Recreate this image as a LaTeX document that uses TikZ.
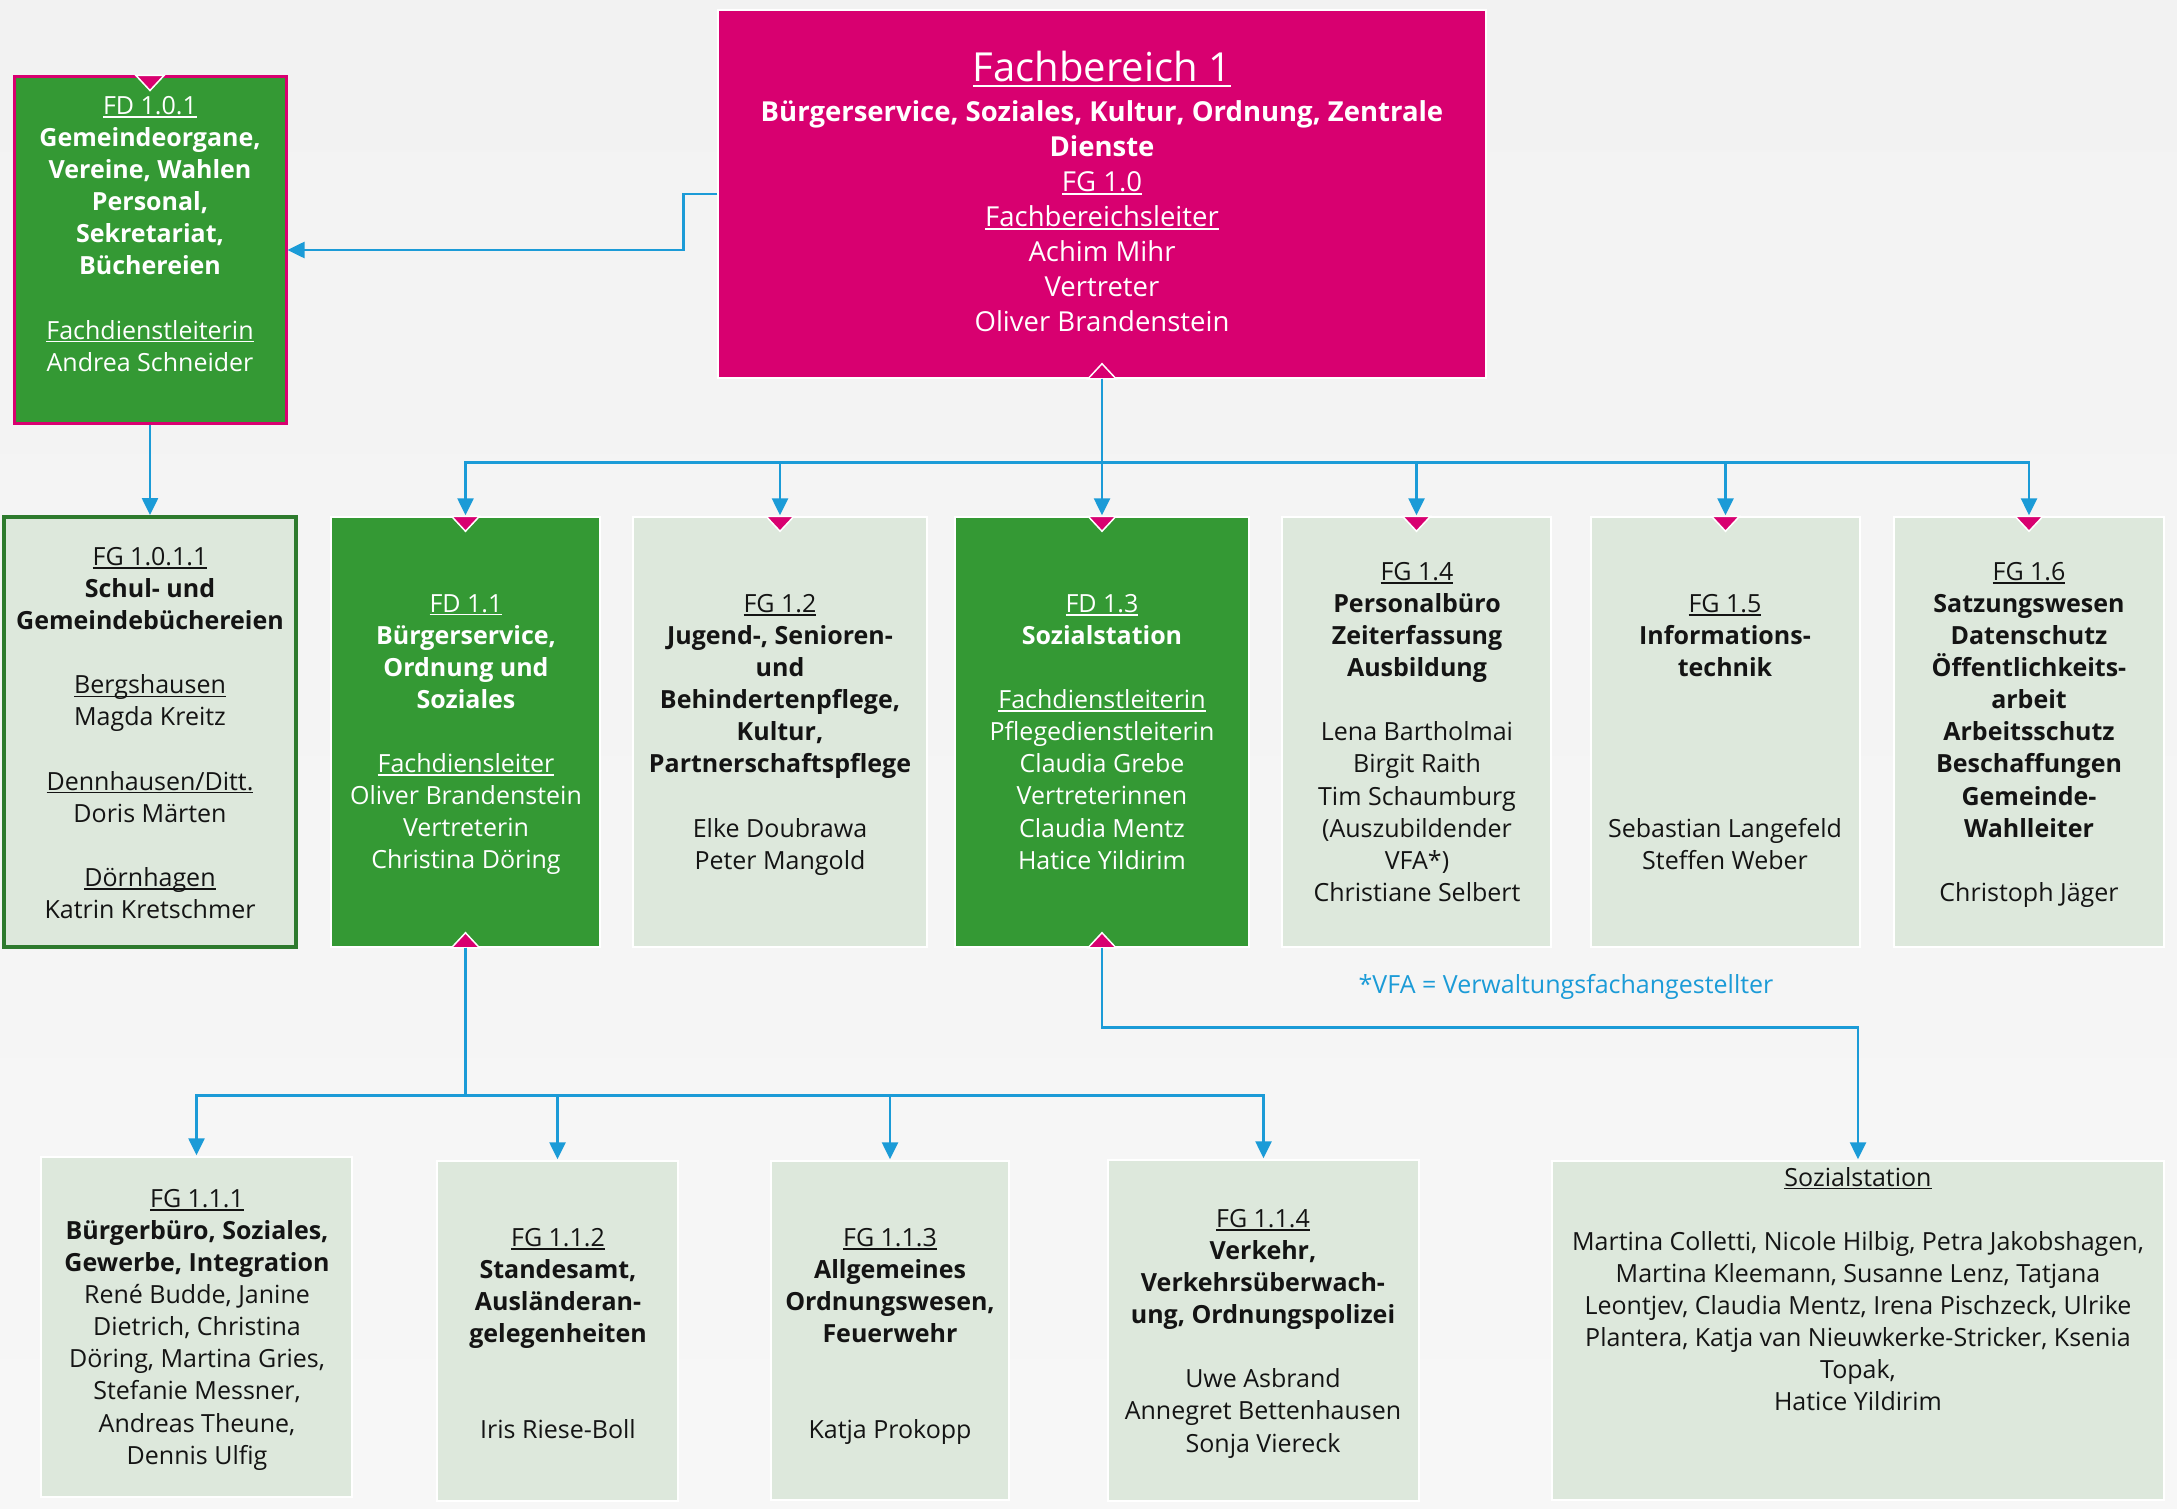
\documentclass[tikz,border=0pt]{standalone}
\usepackage{fontspec}
\setmainfont{Open Sans}
\usetikzlibrary{arrows.meta,calc}
\definecolor{pinkc}{RGB}{216,0,112}
\definecolor{greenc}{RGB}{52,153,52}
\definecolor{lightc}{RGB}{221,232,220}
\definecolor{dgreenc}{RGB}{45,122,45}
\definecolor{bluec}{RGB}{27,155,215}
\definecolor{bgtop}{RGB}{242,242,242}
\definecolor{bgbot}{RGB}{247,247,247}
\definecolor{darktext}{RGB}{20,20,20}
\newcommand\sztxt{\fontsize{25}{32.1}\selectfont}
\newcommand\undl[1]{\setbox0\hbox{#1}\rlap{\rule[-0.13em]{\wd0}{0.055em}}\box0}
\newcommand\dmk[1]{\filldraw[mk] ($(#1.north)+(-14,0)$) -- ($(#1.north)+(14,0)$) -- ($(#1.north)+(0,15)$) -- cycle;}
\newcommand\umk[1]{\filldraw[mk] ($(#1.south)+(-14,0)$) -- ($(#1.south)+(14,0)$) -- ($(#1.south)+(0,-15)$) -- cycle;}
\tikzset{
  box/.style={rectangle, inner sep=0pt, draw=white, line width=1.5pt},
  pinkbox/.style={box, fill=pinkc},
  greenbox/.style={box, fill=greenc},
  lightbox/.style={box, fill=lightc},
  txt/.style={anchor=north, align=center, inner sep=0pt, font=\sztxt},
  wtxt/.style={txt, text=white},
  dtxt/.style={txt, text=darktext},
  conn/.style={draw=bluec, line width=2.6pt, -{Triangle[length=17pt,width=16pt]}},
  mk/.style={fill=pinkc, draw=white, line width=1.5pt, line join=miter}
}
\begin{document}
\begin{tikzpicture}[x=1pt,y=-1pt]
\useasboundingbox (0,0) rectangle (2177,1509);
\shade[top color=bgtop, bottom color=bgbot] (0,0) rectangle (2177,1509);

% boxes
\node[pinkbox, minimum width=768pt, minimum height=368pt] (fb1) at (1102,194) {};
\node[box, fill=greenc, draw=pinkc, line width=3pt, minimum width=272pt, minimum height=346pt] (fd101) at (150,250) {};
\node[box, fill=lightc, draw=dgreenc, line width=4pt, minimum width=292pt, minimum height=430pt] (fg1011) at (150,732) {};
\node[greenbox, minimum width=269pt, minimum height=430pt] (fd11) at (465.5,732) {};
\node[lightbox, minimum width=294pt, minimum height=430pt] (fg12) at (780,732) {};
\node[greenbox, minimum width=294pt, minimum height=430pt] (fd13) at (1102,732) {};
\node[lightbox, minimum width=269pt, minimum height=430pt] (fg14) at (1416.5,732) {};
\node[lightbox, minimum width=269pt, minimum height=430pt] (fg15) at (1725.5,732) {};
\node[lightbox, minimum width=270pt, minimum height=430pt] (fg16) at (2029,732) {};
\node[lightbox, minimum width=311pt, minimum height=340pt] (fg111) at (196.5,1327) {};
\node[lightbox, minimum width=241pt, minimum height=340pt] (fg112) at (557.5,1331) {};
\node[lightbox, minimum width=238pt, minimum height=339pt] (fg113) at (890,1330.5) {};
\node[lightbox, minimum width=311pt, minimum height=341pt] (fg114) at (1263.5,1330.5) {};
\node[lightbox, minimum width=612pt, minimum height=339pt] (soz) at (1858,1330.5) {};

% markers
\umk{fb1}
\dmk{fd101}
\dmk{fd11}\dmk{fg12}\dmk{fd13}\dmk{fg14}\dmk{fg15}\dmk{fg16}
\umk{fd11}\umk{fd13}

% connectors
\draw[conn] (fb1.west) -- ++(-34,0) |- (fd101.east);
\draw[conn] (fd101.south) -- (fg1011.north);
\foreach \c in {fd11,fg12,fd13,fg14,fg15,fg16}
  \draw[conn] (fb1.south) -- ++(0,84) -| ($(\c.north)+(0,-1)$);
\foreach \c in {fg111,fg112,fg113,fg114}
  \draw[conn] (fd11.south) -- ++(0,148) -| ($(\c.north)+(0,-1)$);
\draw[conn] (fd13.south) -- ++(0,80) -| ($(soz.north)+(0,-1)$);

% texts
\node[wtxt, font=\fontsize{40}{48}\selectfont] (fb1title) at (1102,51) {\undl{Fachbereich 1}};
\node[wtxt, font=\fontsize{27.5}{35}\selectfont] (fb1t) at (1102,100) {\textbf{Bürgerservice, Soziales, Kultur, Ordnung, Zentrale}\\ \textbf{Dienste}\\ \undl{FG 1.0}\\ \undl{Fachbereichsleiter}\\ Achim Mihr\\ Vertreter\\ Oliver Brandenstein};

\node[wtxt] (fd101t) at (150,96) {\undl{FD 1.0.1}\\ \textbf{Gemeindeorgane,}\\ \textbf{Vereine, Wahlen}\\ \textbf{Personal,}\\ \textbf{Sekretariat,}\\ \textbf{Büchereien}\\[32.1pt] \undl{Fachdienstleiterin}\\ Andrea Schneider};

\node[dtxt] (fg1011t) at (150,547) {\undl{FG 1.0.1.1}\\ \textbf{Schul- und}\\ \textbf{Gemeindebüchereien}\\[32.1pt] \undl{Bergshausen}\\ Magda Kreitz\\[32.1pt] \undl{Dennhausen/Ditt.}\\ Doris Märten\\[32.1pt] \undl{Dörnhagen}\\ Katrin Kretschmer};

\node[wtxt] (fd11t) at (466,594) {\undl{FD 1.1}\\ \textbf{Bürgerservice,}\\ \textbf{Ordnung und}\\ \textbf{Soziales}\\[32.1pt] \undl{Fachdiensleiter}\\ Oliver Brandenstein\\ Vertreterin\\ Christina Döring};

\node[dtxt] (fg12t) at (780,594) {\undl{FG 1.2}\\ \textbf{Jugend-, Senioren-}\\ \textbf{und}\\ \textbf{Behindertenpflege,}\\ \textbf{Kultur,}\\ \textbf{Partnerschaftspflege}\\[32.1pt] Elke Doubrawa\\ Peter Mangold};

\node[wtxt] (fd13t) at (1102,594) {\undl{FD 1.3}\\ \textbf{Sozialstation}\\[32.1pt] \undl{Fachdienstleiterin}\\ Pflegedienstleiterin\\ Claudia Grebe\\ Vertreterinnen\\ Claudia Mentz\\ Hatice Yildirim};

\node[dtxt] (fg14t) at (1417,562) {\undl{FG 1.4}\\ \textbf{Personalbüro}\\ \textbf{Zeiterfassung}\\ \textbf{Ausbildung}\\[32.1pt] Lena Bartholmai\\ Birgit Raith\\ Tim Schaumburg\\ (Auszubildender\\ VFA*)\\ Christiane Selbert};

\node[dtxt] (fg15t) at (1725,594) {\undl{FG 1.5}\\ \textbf{Informations-}\\ \textbf{technik}\\[128.4pt] Sebastian Langefeld\\ Steffen Weber};

\node[dtxt] (fg16t) at (2029,562) {\undl{FG 1.6}\\ \textbf{Satzungswesen}\\ \textbf{Datenschutz}\\ \textbf{Öffentlichkeits-}\\ \textbf{arbeit}\\ \textbf{Arbeitsschutz}\\ \textbf{Beschaffungen}\\ \textbf{Gemeinde-}\\ \textbf{Wahlleiter}\\[32.1pt] Christoph Jäger};

\node[dtxt] (fg111t) at (197,1189) {\undl{FG 1.1.1}\\ \textbf{Bürgerbüro, Soziales,}\\ \textbf{Gewerbe, Integration}\\ René Budde, Janine\\ Dietrich, Christina\\ Döring, Martina Gries,\\ Stefanie Messner,\\ Andreas Theune,\\ Dennis Ulfig};

\node[dtxt] (fg112t) at (558,1228) {\undl{FG 1.1.2}\\ \textbf{Standesamt,}\\ \textbf{Ausländeran-}\\ \textbf{gelegenheiten}\\[64.2pt] Iris Riese-Boll};

\node[dtxt] (fg113t) at (890,1228) {\undl{FG 1.1.3}\\ \textbf{Allgemeines}\\ \textbf{Ordnungswesen,}\\ \textbf{Feuerwehr}\\[64.2pt] Katja Prokopp};

\node[dtxt] (fg114t) at (1263,1209) {\undl{FG 1.1.4}\\ \textbf{Verkehr,}\\ \textbf{Verkehrsüberwach-}\\ \textbf{ung, Ordnungspolizei}\\[32.1pt] Uwe Asbrand\\ Annegret Bettenhausen\\ Sonja Viereck};

\node[dtxt] (sozt) at (1858,1167) {\undl{Sozialstation}\\[32.1pt] Martina Colletti, Nicole Hilbig, Petra Jakobshagen,\\ Martina Kleemann, Susanne Lenz, Tatjana\\ Leontjev, Claudia Mentz, Irena Pischzeck, Ulrike\\ Plantera, Katja van Nieuwkerke-Stricker, Ksenia\\ Topak,\\ Hatice Yildirim};

\node[font=\sztxt, text=bluec, inner sep=0pt] (fn) at (1566,987) {*VFA = Verwaltungsfachangestellter};
\end{tikzpicture}
\end{document}
